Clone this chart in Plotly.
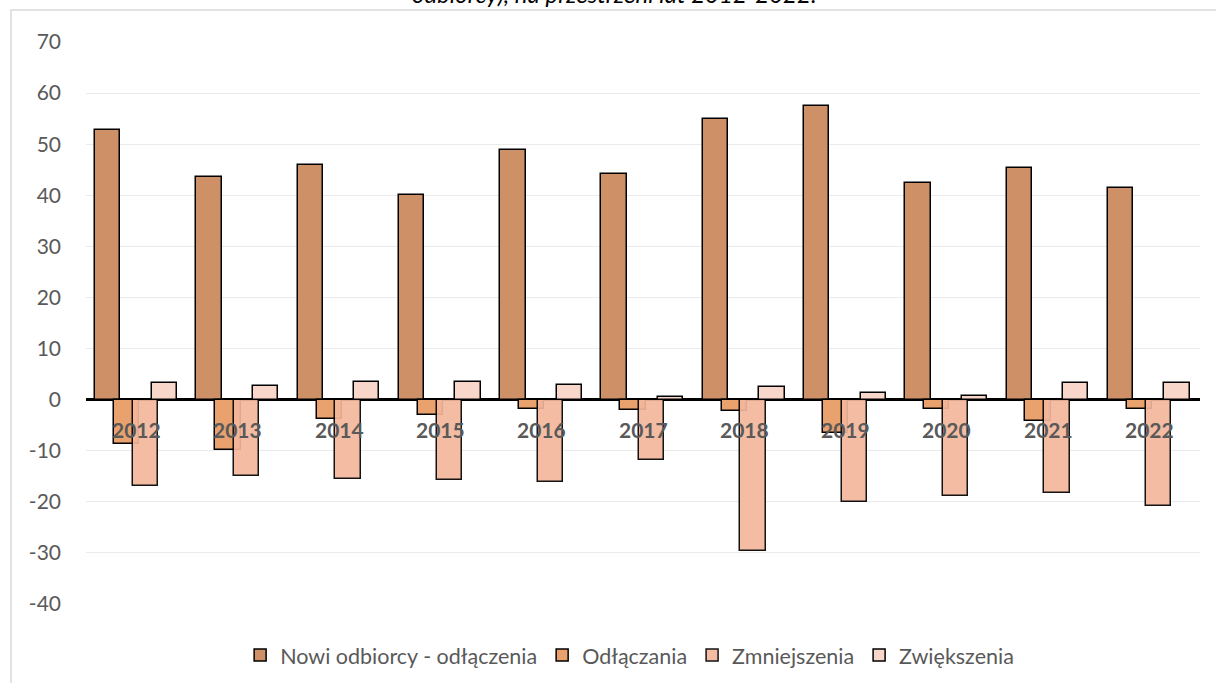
import plotly.graph_objects as go

years = ["2012", "2013", "2014", "2015", "2016", "2017", "2018", "2019", "2020", "2021", "2022"]
nowi = [52.7, 43.5, 46.0, 40.1, 48.8, 44.2, 54.9, 57.4, 42.5, 45.4, 41.5]
odlaczania = [-8.6, -9.8, -3.8, -3.0, -1.8, -2.1, -2.2, -6.5, -1.8, -4.1, -1.8]
zmniejszenia = [-16.9, -14.9, -15.5, -15.7, -16.1, -11.9, -29.7, -20.0, -18.8, -18.3, -20.9]
zwiekszenia = [3.2, 2.7, 3.4, 3.4, 2.9, 0.45, 2.4, 1.3, 0.65, 3.2, 3.2]
y_ticks = [-40, -30, -20, -10, 0, 10, 20, 30, 40, 50, 60, 70]
y_tick_text = ["-40", "-30", "-20", "-10", "0", "10", "20", "30", "40", "50", "60", "70"]

series = [
    ("Nowi odbiorcy - odłączenia", nowi, "#CE9066", 1.0),
    ("Odłączania", odlaczania, "#E9A16D", 1.0),
    ("Zmniejszenia", zmniejszenia, "#F4B79B", 0.92),
    ("Zwiększenia", zwiekszenia, "#F8D6CA", 1.0),
]

FONT = "Lato"
GRAY = "#595959"

fig = go.Figure()
width = 0.25
step = 0.186
start = -0.41
for i, (name, vals, color, op) in enumerate(series):
    fig.add_trace(go.Bar(
        name=name, x=years, y=vals,
        width=width, offset=start + i * step,
        marker=dict(color=color, line=dict(color="black", width=1.5)),
        opacity=op,
    ))

for i, yr in enumerate(years):
    fig.add_annotation(x=i, y=0, xref="x", yref="y", text="<b>%s</b>" % yr,
                       showarrow=False, yshift=-30, yanchor="middle",
                       font=dict(family=FONT, size=21, color=GRAY))

fig.add_annotation(x=0.474, y=1.057, xref="paper", yref="paper",
                   text="<i>odbiorcy), na przestrzeni lat 2012-2022.</i>",
                   showarrow=False, yanchor="bottom",
                   font=dict(family=FONT, size=24, color="black"))

fig.add_shape(type="rect", xref="paper", yref="paper",
              x0=-0.0673, x1=1.02, y0=-0.16, y1=1.057,
              line=dict(color="#D9D9D9", width=1.5), fillcolor="rgba(0,0,0,0)")

fig.update_layout(
    width=1216, height=683,
    margin=dict(l=86, r=16, t=42, b=79, autoexpand=False),
    paper_bgcolor="white", plot_bgcolor="white",
    barmode="overlay",
    bargap=0,
    font=dict(family=FONT, size=21, color=GRAY),
    showlegend=True,
    legend=dict(orientation="h", x=0.488, xanchor="center", y=-0.091, yanchor="middle",
                font=dict(family=FONT, size=21.5, color=GRAY), traceorder="normal",
                itemwidth=30),
    xaxis=dict(type="category", range=[-0.5, 10.5],
               showticklabels=False, showgrid=False, zeroline=False, showline=False,
               ticks=""),
    yaxis=dict(range=[-40, 70], tickvals=y_ticks, ticktext=y_tick_text,
               showgrid=True, gridcolor="#EBEBEB", gridwidth=1,
               zeroline=True, zerolinecolor="black", zerolinewidth=2.5,
               showline=False, ticks="", ticklabelstandoff=24,
               tickfont=dict(family=FONT, size=21, color=GRAY)),
)

fig.write_html("out.html", config={"displayModeBar": False},
               post_script="document.body.style.margin='0';document.body.style.overflow='hidden';")
